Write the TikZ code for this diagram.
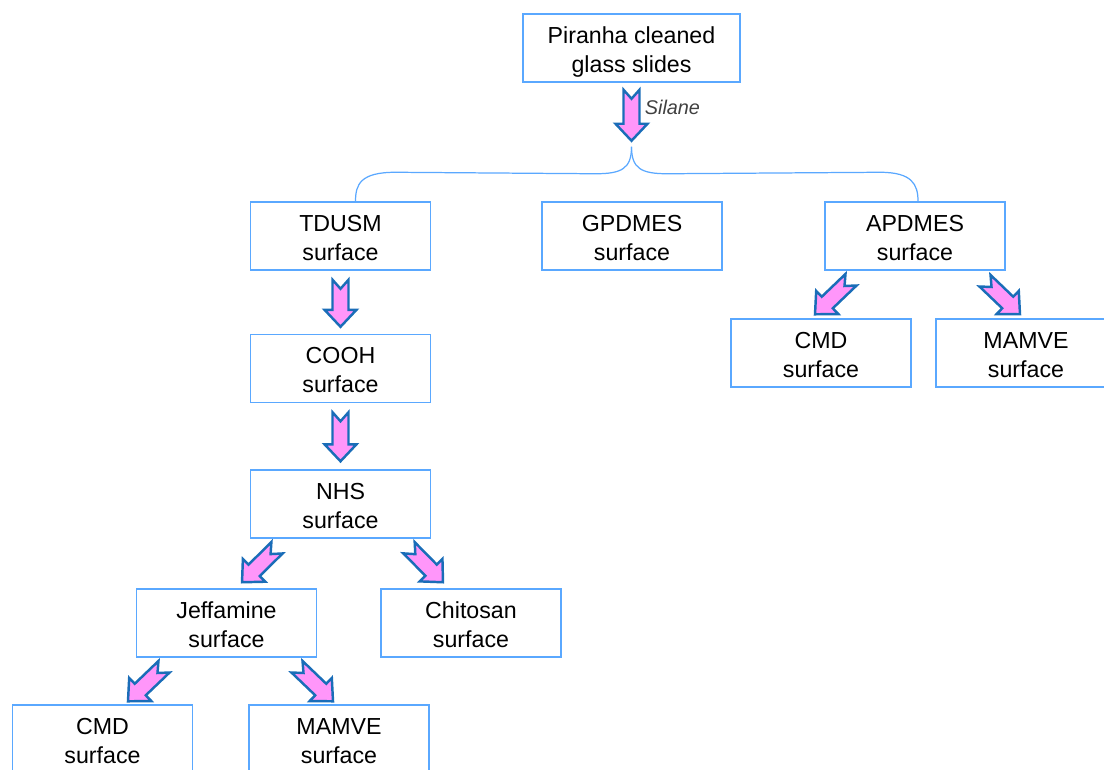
\documentclass[tikz,border=0pt]{standalone}
\usepackage{fontspec}
\setmainfont{Liberation Sans}
\usepackage{tikz}
\usetikzlibrary{positioning, calc}

\definecolor{boxblue}{RGB}{90,168,255}
\definecolor{arrblue}{RGB}{26,109,184}
\definecolor{arrpink}{RGB}{255,150,250}
\definecolor{lblgray}{RGB}{64,64,64}

\tikzset{
    surf/.style={draw=boxblue, line width=0.85pt, minimum width=3.6cm, minimum height=1.36cm,
        inner sep=0pt, align=center, font=\fontsize{13.2}{16.5}\selectfont},
    blockarr/.style={draw=arrblue, fill=arrpink, line width=1.4pt},
    brace/.style={draw=boxblue, line width=0.7pt}
}

% two lines of box text, with fixed height and depth
\newcommand{\twolines}[2]{\rule{0pt}{14.1pt}#1\\#2\rule[-3pt]{0pt}{0pt}}

% fat arrow with a notched tail, from #1 (tail) to #2 (tip)
\newcommand{\blockarrow}[2]{%
    \path (#1) coordinate (ba-t) (#2) coordinate (ba-h);
    \pgfpointdiff{\pgfpointanchor{ba-t}{center}}{\pgfpointanchor{ba-h}{center}}
    \pgfgetlastxy{\badx}{\bady}
    \pgfmathsetmacro\baang{atan2(\bady,\badx)}
    \pgfmathsetmacro\balen{veclen(\badx,\bady)/0.569055}
    \draw[blockarr, shift={(ba-t)}, rotate=\baang]
        (0,8) -- (9,0) -- (0,-8) -- (\balen-17,-8) -- (\balen-17,-16) -- (\balen,0)
        -- (\balen-17,16) -- (\balen-17,8) -- cycle;
}

\begin{document}
\begin{tikzpicture}[x=0.02cm, y=-0.02cm]
    \clip (0,0) rectangle (1104,769);

    \node[surf, minimum width=4.34cm] (piranha) at (631.5,48) {\twolines{Piranha cleaned}{glass slides}};

    \node[surf] (tdusm)  at (340.5,236) {\twolines{TDUSM}{surface}};
    \node[surf] (gpdmes) at (632,236)   {\twolines{GPDMES}{surface}};
    \node[surf] (apdmes) at (915,236)   {\twolines{APDMES}{surface}};

    \node[surf] (cmdA)   at (821,353)   {\twolines{CMD}{surface}};
    \node[surf] (mamveA) at (1026,353)  {\twolines{MAMVE}{surface}};

    \node[surf] (cooh)   at (340.5,368.5) {\twolines{COOH}{surface}};
    \node[surf] (nhs)    at (340.5,504)   {\twolines{NHS}{surface}};

    \node[surf] (jeff)   at (226.5,623) {\twolines{Jeffamine}{surface}};
    \node[surf] (chito)  at (471,623)   {\twolines{Chitosan}{surface}};

    \node[surf] (cmdB)   at (102.5,739) {\twolines{CMD}{surface}};
    \node[surf] (mamveB) at (339,739)   {\twolines{MAMVE}{surface}};

    % silane step and the split to the three silanes
    \coordinate (split) at ($(piranha.south)+(0,64)$);
    \blockarrow{$(piranha.south)+(0,7)$}{$(split)+(0,-6)$}
    \node[anchor=west, inner sep=0pt, text=lblgray, font=\fontsize{11.3}{13}\selectfont\itshape]
        (silane) at ($(piranha.south)+(13,25)$) {Silane};

    \draw[brace] (split) .. controls ($(split)+(0,22)$) and ($(split)+(-10,27)$) .. ($(split)+(-36,27)$)
        -- ($(tdusm.north)+(55,-29)$) .. controls ($(tdusm.north)+(20,-29)$) and ($(tdusm.north)+(15,-17)$) .. ($(tdusm.north)+(15,0)$);
    \draw[brace] (split) .. controls ($(split)+(0,22)$) and ($(split)+(10,27)$) .. ($(split)+(36,27)$)
        -- ($(apdmes.north)+(-35,-29)$) .. controls ($(apdmes.north)+(-3,-29)$) and ($(apdmes.north)+(3,-17)$) .. ($(apdmes.north)+(3,0)$);

    % reaction steps
    \blockarrow{$(tdusm.south)+(0,9)$}{$(cooh.north)+(0,-7)$}
    \blockarrow{$(cooh.south)+(0,9)$}{$(nhs.north)+(0,-8)$}

    \blockarrow{$(nhs.south)+(-63.5,9)$}{$(jeff.north)+(15.5,-6)$}
    \blockarrow{$(nhs.south)+(68.5,9)$}{$(chito.north)+(-28,-6)$}

    \blockarrow{$(jeff.south)+(-62.5,9)$}{$(cmdB.north)+(25.5,-3)$}
    \blockarrow{$(jeff.south)+(70.5,9)$}{$(mamveB.north)+(-6,-3)$}

    \blockarrow{$(apdmes.south)+(-64,9)$}{$(cmdA.north)+(-6,-4)$}
    \blockarrow{$(apdmes.south)+(70,10)$}{$(mamveA.north)+(-6,-4)$}
\end{tikzpicture}
\end{document}
